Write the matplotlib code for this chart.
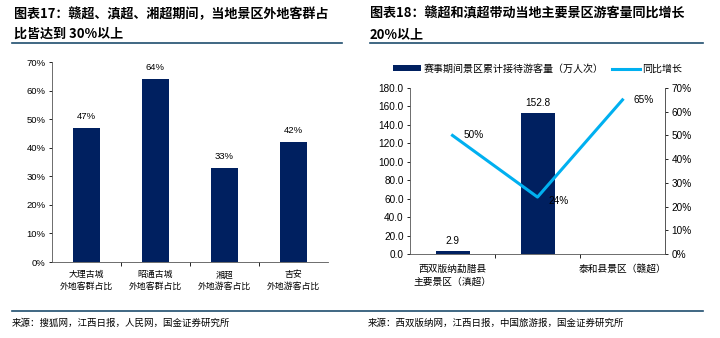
import numpy as np
import matplotlib.pyplot as plt
from matplotlib.lines import Line2D

# 左图数据
cats_l = ["大理古城\n外地客群占比", "昭通古城\n外地客群占比", "湘超\n外地游客占比", "吉安\n外地游客占比"]
share_l = [47, 64, 33, 42]

# 右图数据
cats_r = ["西双版纳勐腊县\n主要景区（滇超）", "", "泰和县景区（赣超）"]
visitors = [2.9, 152.8, np.nan]
yoy = [50, 24, 65]

NAVY = "#002060"
CYAN = "#00B0F0"
RULE = "#1F4E6E"
NUM = ["Liberation Sans", "Noto Sans CJK SC"]
CJK = ["Noto Sans CJK SC", "DejaVu Sans"]

W, H = 720, 338
fig = plt.figure(figsize=(W / 100, H / 100), dpi=100)


def box(x0, y0, x1, y1):
    return [x0 / W, 1 - y1 / H, (x1 - x0) / W, (y1 - y0) / H]


def fx(x):
    return x / W


def fy(y):
    return 1 - y / H


# 标题与分隔线
tkw = dict(family=CJK, fontsize=9.4, fontweight="bold", va="center")
fig.text(fx(14), fy(14), "图表17：赣超、滇超、湘超期间，当地景区外地客群占", **tkw)
fig.text(fx(14), fy(34), "比皆达到 30%以上", **tkw)
fig.text(fx(370), fy(14), "图表18：赣超和滇超带动当地主要景区游客量同比增长", **tkw)
fig.text(fx(370), fy(34), "20%以上", **tkw)
fig.add_artist(Line2D([fx(12), fx(342)], [fy(43), fy(43)], color=RULE, lw=1.2))
fig.add_artist(Line2D([fx(370), fx(703)], [fy(43), fy(43)], color=RULE, lw=1.2))
fig.add_artist(Line2D([fx(12), fx(703)], [fy(311), fy(311)], color=RULE, lw=1.2))
fig.text(fx(12), fy(323), "来源：搜狐网，江西日报，人民网，国金证券研究所",
         family=CJK, fontsize=6.8, va="center")
fig.text(fx(368), fy(323), "来源：西双版纳网，江西日报，中国旅游报，国金证券研究所",
         family=CJK, fontsize=6.8, va="center")

# 左图
ax = fig.add_axes(box(52, 62, 328, 262))
x = np.arange(len(cats_l))
ax.bar(x, share_l, width=0.4, color=NAVY)
for xi, v in zip(x, share_l):
    ax.text(xi, v + 2.5, f"{v}%", ha="center", va="bottom", fontsize=6.8, family=NUM)
ax.set_xlim(-0.5, len(cats_l) - 0.5)
ax.set_ylim(0, 70)
ax.set_yticks(np.arange(0, 71, 10))
ax.set_yticklabels([f"{v}%" for v in range(0, 71, 10)], family=NUM, fontsize=6.8)
ax.set_xticks(x)
ax.set_xticklabels(cats_l, family=CJK, fontsize=6.4, linespacing=1.3)
ax.set_xticks(np.arange(0.5, len(cats_l) - 0.5, 1), minor=True)
ax.tick_params(axis="x", which="major", length=0, pad=6)
ax.tick_params(axis="x", which="minor", length=3, width=0.6)
ax.tick_params(axis="y", length=2.5, width=0.6, pad=2)
for s in ["top", "right"]:
    ax.spines[s].set_visible(False)
for s in ["left", "bottom"]:
    ax.spines[s].set_linewidth(0.6)
    ax.spines[s].set_color("#555555")

# 右图
ax2 = fig.add_axes(box(410, 88, 665, 254))
xr = np.arange(len(cats_r))
ax2.bar(xr, visitors, width=0.4, color=NAVY, label="赛事期间景区累计接待游客量（万人次）")
for xi, v in zip(xr, visitors):
    if not np.isnan(v):
        ax2.text(xi, v + 6, f"{v:.1f}", ha="center", va="bottom", fontsize=7.2, family=NUM)
ax2.set_xlim(-0.5, len(cats_r) - 0.5)
ax2.set_ylim(0, 180)
ax2.set_yticks(np.arange(0, 181, 20))
ax2.set_yticklabels([f"{v:.1f}" for v in range(0, 181, 20)], family=NUM, fontsize=7.2)
ax2.set_xticks(xr)
ax2.set_xticklabels(cats_r, family=CJK, fontsize=7, linespacing=1.35, va="top")
ax2.set_xticks(np.arange(0.5, len(cats_r) - 0.5, 1), minor=True)
ax2.tick_params(axis="x", which="major", length=0, pad=7)
ax2.tick_params(axis="x", which="minor", length=3, width=0.6)
ax2.tick_params(axis="y", length=2.5, width=0.6, pad=2)
ax2.spines["top"].set_visible(False)
for s in ["left", "bottom", "right"]:
    ax2.spines[s].set_linewidth(0.6)
    ax2.spines[s].set_color("#555555")

ax3 = ax2.twinx()
ax3.plot(xr, yoy, color=CYAN, lw=2.2, label="同比增长")
offs = [(0.13, 0), (0.13, -1.5), (0.13, 0)]
for xi, v, (dx, dy) in zip(xr, yoy, offs):
    ax3.text(xi + dx, v + dy, f"{v}%", ha="left", va="center",
             fontsize=7.2, family=NUM)
ax3.set_ylim(0, 70)
ax3.set_yticks(np.arange(0, 71, 10))
ax3.set_yticklabels([f"{v}%" for v in range(0, 71, 10)], family=NUM, fontsize=7.2)
ax3.tick_params(axis="y", length=2.5, width=0.6, pad=2)
for s in ["top", "left", "bottom"]:
    ax3.spines[s].set_visible(False)
ax3.spines["right"].set_linewidth(0.6)
ax3.spines["right"].set_color("#555555")

h1, l1 = ax2.get_legend_handles_labels()
h2, l2 = ax3.get_legend_handles_labels()
fig.legend(h1 + h2, l1 + l2, loc="center left", bbox_to_anchor=(fx(393), fy(69)),
           ncol=2, frameon=False, prop={"family": CJK, "size": 7.2},
           handlelength=2.8, handleheight=0.55, handletextpad=0.25, columnspacing=0.8,
           borderaxespad=0, borderpad=0)

fig.savefig("out.png", dpi=100)
